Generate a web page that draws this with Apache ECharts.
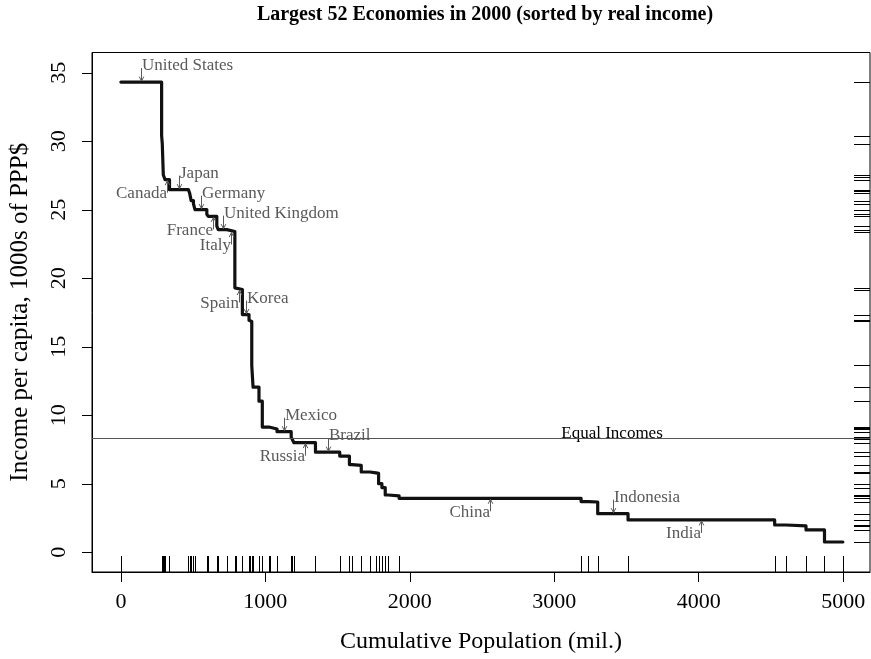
<!DOCTYPE html>
<html><head><meta charset="utf-8">
<script src="https://cdn.jsdelivr.net/npm/echarts@6/dist/echarts.min.js"></script>
<style>html,body{margin:0;padding:0;background:#fff}#c{width:871px;height:659px}</style>
</head><body><div id="c"></div>
<script>
// ---- data ----
const countries = ['United States','Norway','Switzerland','Denmark','Hong Kong','Canada','Japan','Austria','Belgium','Netherlands',
  'Australia','Germany','Sweden','France','Finland','United Kingdom','Italy','Israel','Spain','Korea',
  'Portugal','Greece','Czech Republic','Argentina','Saudi Arabia','South Africa','Chile','Poland','Mexico','Malaysia',
  'Hungary','Russia','Brazil','Turkey','Romania','Thailand','Iran','Colombia','Venezuela','Algeria',
  'Peru','Morocco','Philippines','China','Ukraine','Egypt','Indonesia','India','Vietnam','Pakistan',
  'Bangladesh','Nigeria'];
// income per capita, 1000s of PPP$
const income = [34.32,30.41,29.82,27.54,27.39,27.20,26.47,26.35,26.23,25.67,
  25.43,25.01,24.67,24.52,23.80,23.55,23.41,19.30,19.18,17.35,
  16.94,16.85,13.64,12.06,11.03,9.14,9.04,9.00,8.80,8.40,
  8.25,8.00,7.31,7.02,6.40,6.34,5.86,5.80,5.76,5.01,
  4.72,4.18,4.12,3.94,3.70,3.67,2.82,2.36,1.99,1.92,
  1.63,0.75];
// population, millions
const population = [282,4.5,7.2,5.3,6.7,30.8,130.5,8.5,11.0,15.9,
  10.6,82.0,10.0,59.0,10.0,59.0,56.0,11.0,41.0,46.0,
  10.0,9.0,9.0,41.0,23.0,46.0,9.0,47.0,98.0,7.0,
  12.0,149.0,168.0,67.0,18.0,64.0,60.0,42.0,18.0,23.0,
  23.0,20.0,76.0,1260.0,51.0,64.0,210.0,1015.0,79.0,138.0,
  128.0,127.0];
const xTicks = [0,1000,2000,3000,4000,5000];
const yTicks = [0,5,10,15,20,25,30,35];
const equalIncome = 8.29;
const equalLabelX = 3400;
const annLabels = ['United States','Canada','Japan','Germany','United Kingdom','France','Italy','Spain','Korea',
  'Mexico','Russia','Brazil','China','Indonesia','India'];
const annSide = ['above','below','above','above','above','below','below','below','above',
  'above','below','above','below','above','below'];

// ---- derived tables ----
const cumStart = [], cumEnd = [];
let acc = 0;
population.forEach(function(p){ cumStart.push(acc); acc += p; cumEnd.push(acc); });
const stepData = [];
income.forEach(function(v,i){ stepData.push([cumStart[i], v]); stepData.push([cumEnd[i], v]); });
const boundaries = [0].concat(cumEnd);
const annData = annLabels.map(function(n){
  const i = countries.indexOf(n);
  return [(cumStart[i] + cumEnd[i]) / 2, income[i]];
});

const FONT = '"Liberation Serif", "Times New Roman", serif';
const XMIN = -200, XMAX = 5186, YMIN = -1.44, YMAX = 36.48;

const chart = echarts.init(document.getElementById('c'), null, {renderer:'canvas'});
chart.setOption({
  animation: false,
  backgroundColor: '#fff',
  graphic: [{
    type: 'text', x: 485, y: 15,
    style: { text: 'Largest 52 Economies in 2000 (sorted by real income)', align: 'center', verticalAlign: 'middle',
      font: 'bold 20px ' + FONT, fill: '#000' }
  }],
  grid: { left: 89, top: 52.5, right: 1, bottom: 86.3, show: true, borderColor: '#000', borderWidth: 1, backgroundColor: 'transparent' },
  xAxis: {
    type: 'value', min: XMIN, max: XMAX,
    splitLine: { show: false },
    axisLine: { show: true, onZero: false, lineStyle: { color: '#000', width: 1 } },
    axisTick: { show: true, inside: false, length: 10, customValues: xTicks, lineStyle: { color: '#000' } },
    axisLabel: { customValues: xTicks, formatter: function(v){ return String(v); },
      fontSize: 22, fontFamily: FONT, color: '#000', margin: 19 },
    name: 'Cumulative Population (mil.)', nameLocation: 'middle', nameGap: 58,
    nameTextStyle: { fontSize: 24, fontFamily: FONT, color: '#000' }
  },
  yAxis: {
    type: 'value', min: YMIN, max: YMAX,
    splitLine: { show: false },
    axisLine: { show: true, onZero: false, lineStyle: { color: '#000', width: 1 } },
    axisTick: { show: true, inside: false, length: 10, customValues: yTicks, lineStyle: { color: '#000' } },
    axisLabel: { customValues: yTicks, formatter: function(v){ return String(v); },
      rotate: 90, fontSize: 22, fontFamily: FONT, color: '#000', margin: 22 },
    name: 'Income per capita, 1000s of PPP$', nameLocation: 'middle', nameGap: 59,
    nameTextStyle: { fontSize: 25, fontFamily: FONT, color: '#000' }
  },
  series: [
    {
      type: 'line', data: stepData, showSymbol: false, z: 3, silent: true,
      lineStyle: { color: '#111', width: 3.2, cap: 'round', join: 'round' },
      markLine: {
        silent: true, symbol: ['none','none'], label: { show: false },
        lineStyle: { color: '#555', width: 1, type: 'solid' },
        data: [{ yAxis: equalIncome }], animation: false
      }
    },
    {
      type: 'custom', coordinateSystem: 'cartesian2d', silent: true, z: 2,
      data: boundaries.map(function(b){ return [b, 0]; }),
      renderItem: function(params, api){
        const x = Math.round(api.coord([api.value(0), 0])[0]) + 0.5;
        const yb = params.coordSys.y + params.coordSys.height;
        return { type: 'line', shape: { x1: x, y1: yb, x2: x, y2: yb - 16 }, style: { stroke: '#000', lineWidth: 1 } };
      }
    },
    {
      type: 'custom', coordinateSystem: 'cartesian2d', silent: true, z: 2,
      data: income.map(function(v){ return [0, v]; }),
      renderItem: function(params, api){
        const y = Math.round(api.coord([0, api.value(1)])[1]) + 0.5;
        const xr = params.coordSys.x + params.coordSys.width;
        return { type: 'line', shape: { x1: xr - 16, y1: y, x2: xr, y2: y }, style: { stroke: '#000', lineWidth: 1 } };
      }
    },
    {
      type: 'custom', coordinateSystem: 'cartesian2d', silent: true, z: 4,
      data: annData,
      renderItem: function(params, api){
        const i = params.dataIndex;
        const p = api.coord([api.value(0), api.value(1)]);
        const up = annSide[i] === 'above';
        const x = Math.round(p[0]) + 0.5;
        const tailY = up ? p[1] - 14 : p[1] + 13;
        const headY = up ? p[1] - 1 : p[1] + 1;
        const d = up ? 1 : -1;
        const hs = 4.5, hw = 2.3;
        return { type: 'group', children: [
          { type: 'line', shape: { x1: x, y1: tailY, x2: x, y2: headY }, style: { stroke: '#5a5a5a', lineWidth: 1 } },
          { type: 'polyline', shape: { points: [[x - hw, headY - d*hs], [x, headY], [x + hw, headY - d*hs]] },
            style: { stroke: '#5a5a5a', lineWidth: 1, fill: null } },
          { type: 'text', x: up ? x + 0.5 : x - 0.5, y: up ? p[1] - 16.5 : p[1] + 14,
            style: { text: annLabels[i], align: up ? 'left' : 'right', verticalAlign: 'middle',
              font: '17px ' + FONT, fill: '#5a5a5a' } }
        ]};
      }
    },
    {
      type: 'custom', coordinateSystem: 'cartesian2d', silent: true, z: 4,
      data: [[equalLabelX, equalIncome]],
      renderItem: function(params, api){
        const p = api.coord([api.value(0), api.value(1)]);
        return { type: 'text', x: p[0], y: p[1] + 3,
          style: { text: 'Equal Incomes', align: 'center', verticalAlign: 'bottom', font: '17px ' + FONT, fill: '#000' } };
      }
    }
  ]
});
</script>
</body></html>
